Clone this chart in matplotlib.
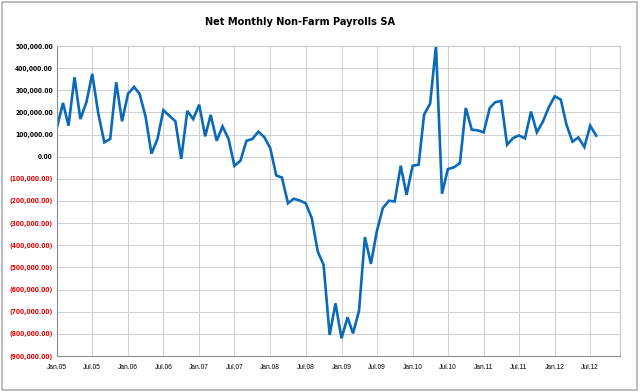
import numpy as np
import pandas as pd
import matplotlib
matplotlib.use("Agg")
import matplotlib.pyplot as plt
import matplotlib.dates as mdates
from matplotlib.ticker import FuncFormatter, MultipleLocator

plt.rcParams['font.family'] = ['Liberation Sans', 'DejaVu Sans']

# monthly net change in non-farm payrolls, Jan 2005 - Aug 2012
months = pd.date_range("2005-01-01", "2012-08-01", freq="MS")
payrolls = [
    134000, 243000, 140000, 359000, 170000, 246000, 374000, 195000, 65000, 80000, 336000, 160000,   # 2005
    285000, 315000, 284000, 180000, 14000, 80000, 210000, 185000, 160000, -10000, 207000, 170000,  # 2006
    235000, 92000, 189000, 72000, 137000, 80000, -41000, -18000, 72000, 80000, 113000, 89000,     # 2007
    39000, -85000, -94000, -210000, -190000, -198000, -210000, -277000, -428000, -489000, -805000, -662000,  # 2008
    -820000, -725000, -798000, -695000, -363000, -484000, -338000, -232000, -199000, -202000, -41000, -172000,  # 2009
    -41000, -36000, 190000, 240000, 500000, -167000, -56000, -48000, -29000, 220000, 122000, 119000,  # 2010
    110000, 220000, 246000, 252000, 54000, 84000, 96000, 83000, 204000, 110000, 158000, 223000,  # 2011
    273000, 258000, 145000, 68000, 87000, 44000, 140000, 95000,  # 2012
]
title = "Net Monthly Non-Farm Payrolls SA"


def money(v, pos):
    if v < 0:
        return "({:,.2f})".format(-v)
    return "{:,.2f}".format(v)


fig = plt.figure(figsize=(6.4, 3.92), dpi=100)
ax = fig.add_axes([57 / 640, 36 / 392, 563 / 640, 310 / 392])

ax.plot(months, payrolls, color="#0A6AB8", linewidth=1.9, solid_joinstyle="miter")

ax.set_ylim(-900000, 500000)
ax.yaxis.set_major_locator(MultipleLocator(100000))
ax.yaxis.set_major_formatter(FuncFormatter(money))
ax.set_xlim(pd.Timestamp("2005-01-01"), pd.Timestamp("2012-12-01"))
ax.xaxis.set_major_locator(mdates.MonthLocator(bymonth=[1, 7]))
ax.xaxis.set_major_formatter(mdates.DateFormatter("%b.%y"))

ax.grid(True, color="#d0d0d0", linewidth=0.7)
ax.set_axisbelow(True)
for side in ["top", "right"]:
    ax.spines[side].set_color("#c8c8c8")
for side in ["left", "bottom"]:
    ax.spines[side].set_color("#8c8c8c")
ax.tick_params(axis="both", length=0, pad=3)

for lab in ax.get_yticklabels():
    lab.set_fontsize(4.8)
    lab.set_fontweight("bold")
    lab.set_family(['DejaVu Sans'])
    lab.set_stretch("condensed")
    if lab.get_text().startswith("("):
        lab.set_color("#e00000")
for lab in ax.get_xticklabels():
    lab.set_fontsize(4.8)
ax.tick_params(axis="x", pad=6)

fig.text(300 / 640, 1 - 22 / 392, title, ha="center", va="center",
         fontsize=7.8, fontweight="bold", family=['DejaVu Sans'], stretch="condensed")

# thin gray frame around the whole picture
fig.patches.append(plt.Rectangle((0.003, 0.004), 0.992, 0.992, transform=fig.transFigure,
                                 fill=False, edgecolor="#b0b0b0", linewidth=1.2))

fig.savefig("out.png", dpi=100)
